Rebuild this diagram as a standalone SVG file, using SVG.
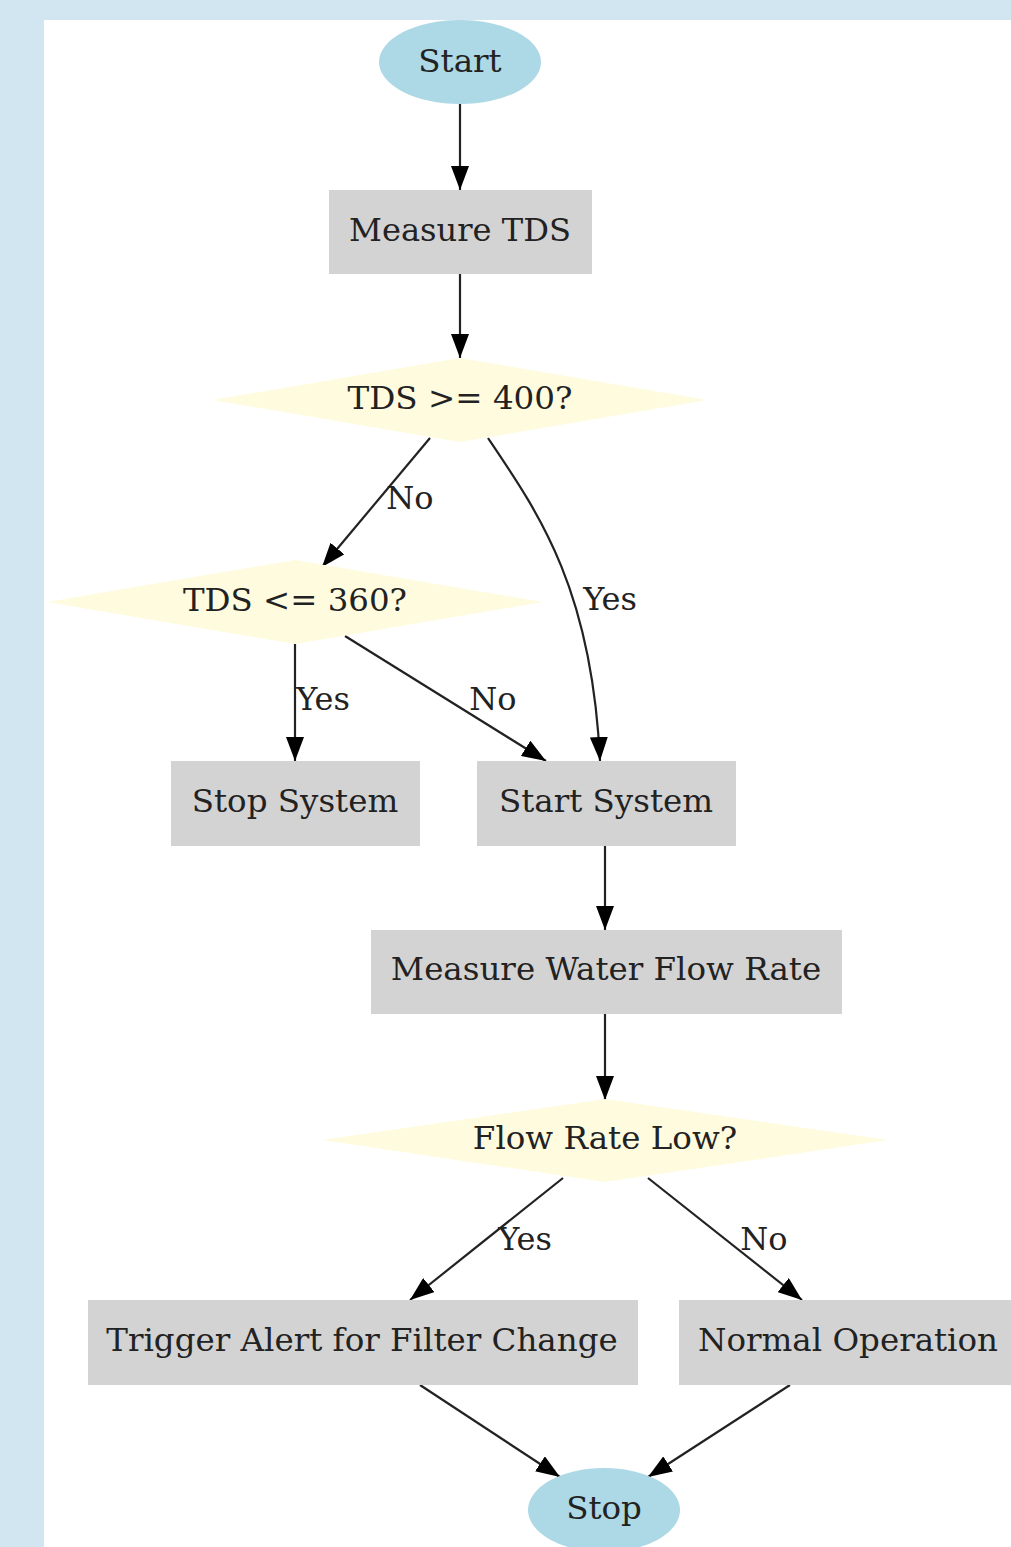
<svg xmlns="http://www.w3.org/2000/svg" width="1011" height="1547" viewBox="0 0 1011 1547">
<defs>
<marker id="ah" markerUnits="userSpaceOnUse" markerWidth="26" markerHeight="18" refX="24" refY="9" orient="auto">
<path d="M0,0 L24,9 L0,18 Z" fill="#000"/>
</marker>
<style>
text{font-family:"DejaVu Serif","Liberation Serif",serif;font-size:32.5px;fill:#222;text-anchor:middle;dominant-baseline:central}
.lbl{font-size:32px}
.term{fill:#add8e6}
.proc{fill:#d3d3d3}
.dec{fill:#fffbdf}
.edge{stroke:#222;stroke-width:2.2;fill:none;marker-end:url(#ah)}
</style>
</defs>
<rect x="0" y="0" width="1011" height="1547" fill="#d1e6f1"/>
<rect x="44" y="20" width="967" height="1527" fill="#ffffff"/>
<g id="connectors">
<path class="edge" d="M460,104 L460,190"/>
<path class="edge" d="M460,274 L460,358"/>
<path class="edge" d="M430,438 L322,567"/>
<path class="edge" d="M488,438 C540,515 592,590 600,761"/>
<path class="edge" d="M295,644 L295,761"/>
<path class="edge" d="M345,636 L546,761"/>
<path class="edge" d="M605,846 L605,930"/>
<path class="edge" d="M605,1014 L605,1100"/>
<path class="edge" d="M563,1178 L410,1300"/>
<path class="edge" d="M648,1178 L802,1300"/>
<path class="edge" d="M420,1385 L560,1477"/>
<path class="edge" d="M790,1385 L648,1477"/>
<text class="lbl" x="410" y="498">No</text>
<text class="lbl" x="610" y="599">Yes</text>
<text class="lbl" x="323" y="699">Yes</text>
<text class="lbl" x="493" y="699">No</text>
<text class="lbl" x="525" y="1239">Yes</text>
<text class="lbl" x="764" y="1239">No</text>
</g>
<g id="start"><ellipse class="term" cx="460" cy="62" rx="81" ry="42"/><text x="460" y="61">Start</text></g>
<g id="measure_tds"><rect class="proc" x="329" y="190" width="263" height="84"/><text x="460" y="230" textLength="222" lengthAdjust="spacingAndGlyphs">Measure TDS</text></g>
<g id="tds_ge_400"><polygon class="dec" points="460,358 708,400 460,442 212,400"/><text x="460" y="398" textLength="225" lengthAdjust="spacingAndGlyphs">TDS &gt;= 400?</text></g>
<g id="tds_le_360"><polygon class="dec" points="295,560 543,602 295,644 47,602"/><text x="295" y="600" textLength="224" lengthAdjust="spacingAndGlyphs">TDS &lt;= 360?</text></g>
<g id="stop_system"><rect class="proc" x="171" y="761" width="249" height="85"/><text x="295" y="801">Stop System</text></g>
<g id="start_system"><rect class="proc" x="477" y="761" width="259" height="85"/><text x="606" y="801">Start System</text></g>
<g id="measure_flow"><rect class="proc" x="371" y="930" width="471" height="84"/><text x="606" y="969">Measure Water Flow Rate</text></g>
<g id="flow_low"><polygon class="dec" points="605,1099 888,1140 605,1182 322,1140"/><text x="605" y="1138">Flow Rate Low?</text></g>
<g id="trigger_alert"><rect class="proc" x="88" y="1300" width="550" height="85"/><text x="362" y="1340">Trigger Alert for Filter Change</text></g>
<g id="normal_op"><rect class="proc" x="679" y="1300" width="340" height="85"/><text x="848" y="1340">Normal Operation</text></g>
<g id="stop"><ellipse class="term" cx="604" cy="1510" rx="76" ry="42"/><text x="604" y="1508">Stop</text></g>
</svg>
